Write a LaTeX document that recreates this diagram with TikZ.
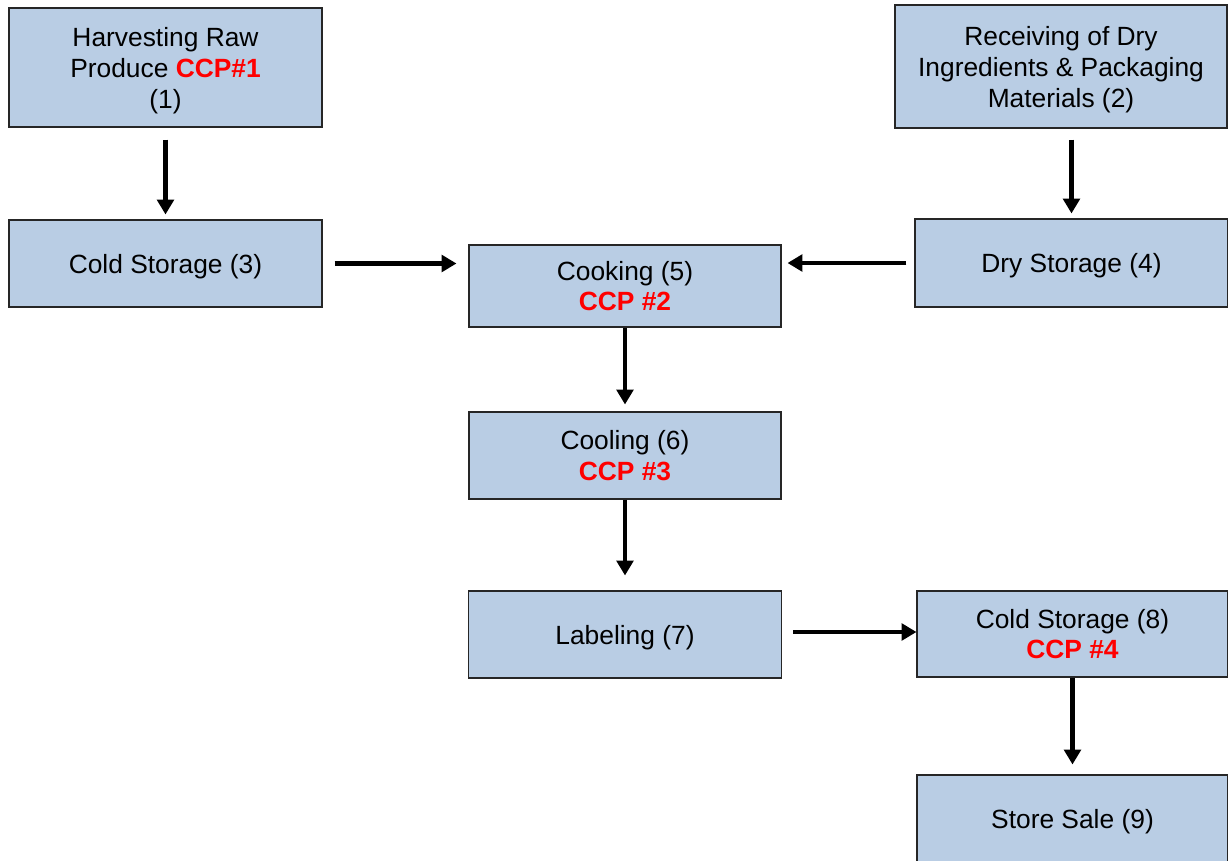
\documentclass[tikz,border=0pt]{standalone}
\usepackage{fontspec}
\setmainfont{Liberation Sans}
\usetikzlibrary{arrows.meta}
\definecolor{boxblue}{RGB}{185,205,228}
\definecolor{ccpred}{RGB}{255,0,0}
\newcommand{\ccp}[1]{\textcolor{ccpred}{\textbf{#1}}}

\begin{document}
\begin{tikzpicture}[>={Triangle[width=9.5pt,length=8.5pt]}]
 % styles
 \tikzstyle{stepbox} = [rectangle,draw=black!85,line width=0.6pt,fill=boxblue,align=center,inner sep=0pt,minimum width=6.26cm,minimum height=1.74cm,font=\fontsize{15}{17.5}\selectfont];
 \tikzstyle{oneline} = [stepbox,text height=14.2pt];
 \tikzstyle{flow} = [->,line width=2.8pt];

 \useasboundingbox (0,0) rectangle (24.56,-17.2);

 % nodes
 \node[stepbox,minimum height=2.38cm,text height=49.2pt] (harvest) at (3.31,-1.35) {Harvesting Raw\\ Produce \ccp{CCP\#1}\\ (1)};
 \node[stepbox,minimum width=6.64cm,minimum height=2.46cm,text height=49.2pt] (receiving) at (21.22,-1.33) {Receiving of Dry\\ Ingredients \& Packaging\\ Materials (2)};
 \node[oneline] (cold3) at (3.31,-5.27) {Cold Storage (3)};
 \node[oneline,minimum height=1.76cm] (dry4) at (21.43,-5.26) {Dry Storage (4)};
 \node[stepbox,minimum width=6.24cm,minimum height=1.64cm] (cooking) at (12.50,-5.72) {Cooking (5)\\ \ccp{CCP \#2}};
 \node[stepbox,minimum width=6.24cm] (cooling) at (12.50,-9.11) {Cooling (6)\\ \ccp{CCP \#3}};
 \node[oneline] (labeling) at (12.50,-12.69) {Labeling (7)};
 \node[stepbox,minimum width=6.22cm,minimum height=1.72cm] (cold8) at (21.45,-12.68) {Cold Storage (8)\\ \ccp{CCP \#4}};
 \node[oneline,minimum width=6.22cm] (sale) at (21.45,-16.37) {Store Sale (9)};

 % edges
 \draw[flow,shorten <=0.24cm,shorten >=0.1cm] (harvest.south) -- (harvest.south |- cold3.north);
 \draw[flow,shorten <=0.22cm,shorten >=0.1cm] (receiving.south -| dry4) -- (dry4.north);
 \draw[flow,shorten <=0.24cm,shorten >=0.24cm] (cold3.east) -- (cold3.east -| cooking.west);
 \draw[flow,shorten <=0.16cm,shorten >=0.12cm] (dry4.west) -- (dry4.west -| cooking.east);
 \draw[flow,shorten >=0.14cm] (cooking.south) -- (cooling.north);
 \draw[flow,shorten >=0.3cm] (cooling.south) -- (labeling.north);
 \draw[flow,shorten <=0.22cm] ([yshift=0.05cm]labeling.east) -- ([yshift=0.05cm]labeling.east -| cold8.west);
 \draw[flow,shorten >=0.2cm] (cold8.south) -- (sale.north);
\end{tikzpicture}
\end{document}
